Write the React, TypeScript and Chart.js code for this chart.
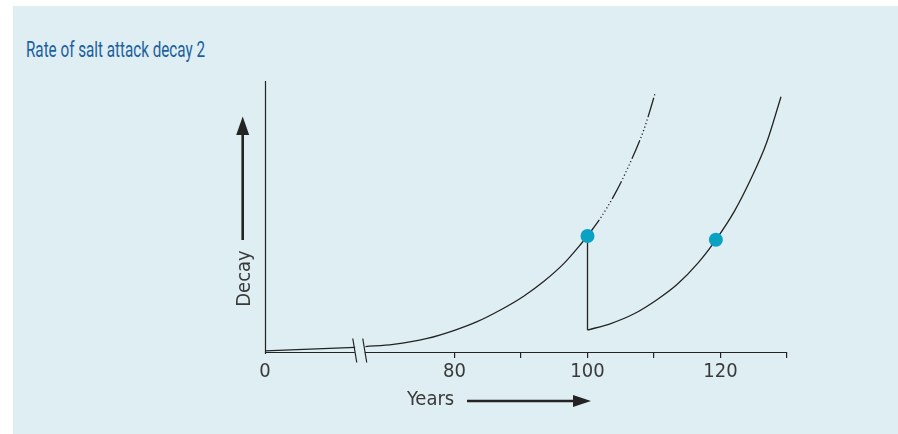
import React, { useEffect, useLayoutEffect, useRef } from 'react';
import { Chart, registerables } from 'chart.js';

Chart.register(...registerables);

// ---- data ----
const titleText = 'Rate of salt attack decay 2';
const xAxisLabel = 'Years';
const yAxisLabel = 'Decay';

const xTickValues = [51.5, 80, 90, 100, 110, 120, 130];
const xTickLabels = ['0', '80', '', '100', '', '120', ''];
const axisBreakYears = [65.0, 66.5];

const earlyYears = [51.5, 65.06];
const earlyDecay = [0.4, 1.7];

const firstCurveYears = [66.6, 70.8, 75.9, 80.1, 83.4, 86.9, 90.4, 93.4, 96.5, 99.2, 100];
const firstCurveDecay = [2.0, 2.8, 5.0, 8.1, 11.2, 15.5, 20.6, 26.0, 32.8, 40.4, 42.8];

const projectedYears = [100, 102, 104, 106, 108.5, 110.2];
const projectedDecay = [42.8, 49.6, 57.8, 67.6, 82.2, 95.7];

const repairYears = [100, 100];
const repairDecay = [42.8, 8.1];

const secondCurveYears = [100, 103.5, 107.0, 110.5, 113.5, 116.6, 119.3, 122.1, 124.6, 126.9, 129.1];
const secondCurveDecay = [8.1, 10.5, 14.1, 19.4, 25.0, 32.8, 41.4, 52.0, 64.0, 77.0, 94.2];

const markerYears = [100, 119.3];
const markerDecay = [42.8, 41.4];

const pts = (xs: number[], ys: number[]) => xs.map((x, i) => ({ x, y: ys[i] }));

const INK = '#232323';
const TEXT = '#3a3a3a';
const FONT = '"DejaVu Sans Condensed", "DejaVu Sans", sans-serif';

const decorPlugin = {
  id: 'decor',
  beforeDatasetsDraw(chart: any) {
    const { ctx, chartArea } = chart;
    const xs = chart.scales.x;
    const b1 = xs.getPixelForValue(axisBreakYears[0]);
    const b2 = xs.getPixelForValue(axisBreakYears[1]);
    const yb = Math.round(chartArea.bottom) + 0.5;
    const xl = Math.round(chartArea.left) + 0.5;
    ctx.save();
    ctx.strokeStyle = INK;
    ctx.lineWidth = 1.2;
    ctx.beginPath();
    ctx.moveTo(xl, chartArea.top);
    ctx.lineTo(xl, chartArea.bottom + 2);
    ctx.stroke();
    ctx.beginPath();
    ctx.moveTo(chartArea.left, yb);
    ctx.lineTo(b1, yb);
    ctx.moveTo(b2, yb);
    ctx.lineTo(chartArea.right, yb);
    ctx.stroke();
    ctx.beginPath();
    [b1, b2].forEach((bx) => {
      ctx.moveTo(bx - 2, yb - 14);
      ctx.lineTo(bx + 2, yb + 10);
    });
    ctx.stroke();
    ctx.restore();
  },
  afterDraw(chart: any) {
    const { ctx, chartArea } = chart;
    const L = chartArea.left;
    const T = chartArea.top;
    const B = chartArea.bottom;
    ctx.save();
    ctx.fillStyle = INK;
    ctx.strokeStyle = INK;
    const ax = L - 22.3;
    ctx.lineWidth = 2.6;
    ctx.beginPath();
    ctx.moveTo(ax, T + 159);
    ctx.lineTo(ax, T + 50);
    ctx.stroke();
    ctx.beginPath();
    ctx.moveTo(ax, T + 35.5);
    ctx.lineTo(ax + 6.5, T + 54);
    ctx.lineTo(ax - 6.5, T + 54);
    ctx.closePath();
    ctx.fill();
    ctx.fillStyle = TEXT;
    ctx.font = `20px ${FONT}`;
    ctx.textAlign = 'center';
    ctx.textBaseline = 'alphabetic';
    ctx.save();
    ctx.translate(L - 15.5, T + 197.5);
    ctx.rotate(-Math.PI / 2);
    ctx.fillText(yAxisLabel, 0, 0);
    ctx.restore();
    ctx.font = `20px ${FONT}`;
    ctx.textAlign = 'left';
    ctx.fillText(xAxisLabel, L + 142, B + 53);
    ctx.fillStyle = INK;
    const ay = B + 49;
    ctx.lineWidth = 2.6;
    ctx.beginPath();
    ctx.moveTo(L + 202, ay);
    ctx.lineTo(L + 312, ay);
    ctx.stroke();
    ctx.beginPath();
    ctx.moveTo(L + 326, ay);
    ctx.lineTo(L + 308, ay - 6);
    ctx.lineTo(L + 308, ay + 6);
    ctx.closePath();
    ctx.fill();
    ctx.restore();
  },
};

export default function App() {
  const canvasRef = useRef<HTMLCanvasElement>(null);
  const titleRef = useRef<HTMLDivElement>(null);

  useLayoutEffect(() => {
    const el = titleRef.current;
    if (!el) return;
    el.style.transform = 'none';
    const w = el.getBoundingClientRect().width;
    if (w > 0) el.style.transform = `scaleX(${179 / w})`;
  }, []);

  useEffect(() => {
    const canvas = canvasRef.current;
    if (!canvas) return;
    const line = (data: any, extra: any = {}) => ({
      data,
      borderColor: INK,
      borderWidth: 1.3,
      pointRadius: 0,
      fill: false,
      order: 1,
      ...extra,
    });
    const chart = new Chart(canvas, {
      type: 'line',
      data: {
        datasets: [
          line(pts(earlyYears, earlyDecay), { tension: 0 }),
          line(pts(firstCurveYears, firstCurveDecay), { cubicInterpolationMode: 'monotone' }),
          line(pts(projectedYears, projectedDecay), {
            cubicInterpolationMode: 'monotone',
            borderDash: [20, 2.5, 1.2, 2.5, 1.2, 2.5, 1.2, 2.5, 1.2, 2.5, 1.2, 2.5, 1.2, 2.5],
          }),
          line(pts(repairYears, repairDecay), { tension: 0 }),
          line(pts(secondCurveYears, secondCurveDecay), { cubicInterpolationMode: 'monotone' }),
          {
            data: pts(markerYears, markerDecay),
            showLine: false,
            pointRadius: 7,
            pointHoverRadius: 7,
            pointBackgroundColor: '#0aa2c3',
            pointBorderWidth: 0,
            borderColor: '#0aa2c3',
            order: 0,
          },
        ],
      } as any,
      options: {
        responsive: false,
        animation: false,
        devicePixelRatio: 1,
        events: [],
        layout: { padding: { left: 265, right: 111, top: 81, bottom: 42 } },
        plugins: {
          legend: { display: false },
          tooltip: { enabled: false },
          title: { display: false },
        },
        scales: {
          x: {
            type: 'linear',
            min: 51.5,
            max: 130,
            afterBuildTicks: (s: any) => {
              s.ticks = xTickValues.map((v) => ({ value: v }));
            },
            afterFit: (s: any) => {
              s.height = 40;
            },
            ticks: {
              autoSkip: false,
              maxRotation: 0,
              minRotation: 0,
              padding: 2,
              color: TEXT,
              font: { family: FONT, size: 20 },
              callback: (_v: any, i: number) => xTickLabels[i] ?? '',
            },
            grid: {
              drawOnChartArea: false,
              drawTicks: true,
              tickLength: 6,
              lineWidth: 1.2,
              color: (c: any) => (c.index === 0 ? 'rgba(0,0,0,0)' : INK),
            },
            border: { display: false },
          },
          y: { type: 'linear', min: 0, max: 100, display: false },
        },
      } as any,
      plugins: [decorPlugin],
    });
    return () => chart.destroy();
  }, []);

  return (
    <div style={{ position: 'absolute', left: 0, top: 0, width: 898, height: 434, overflow: 'hidden' }}>
      <div
        style={{
          position: 'absolute',
          left: 13,
          top: 6,
          width: 885,
          height: 428,
          background: '#deeef3',
        }}
      />
      <div
        ref={titleRef}
        style={{
          position: 'absolute',
          left: 26,
          top: 39,
          fontFamily: 'Roboto, "DejaVu Sans", sans-serif',
          fontSize: 22,
          lineHeight: 1,
          color: '#1c5f9c',
          whiteSpace: 'nowrap',
          display: 'inline-block',
          transformOrigin: 'left top',
        }}
      >
        {titleText}
      </div>
      <canvas
        ref={canvasRef}
        width={898}
        height={434}
        style={{ position: 'absolute', left: 0, top: 0, width: 898, height: 434 }}
      />
    </div>
  );
}
